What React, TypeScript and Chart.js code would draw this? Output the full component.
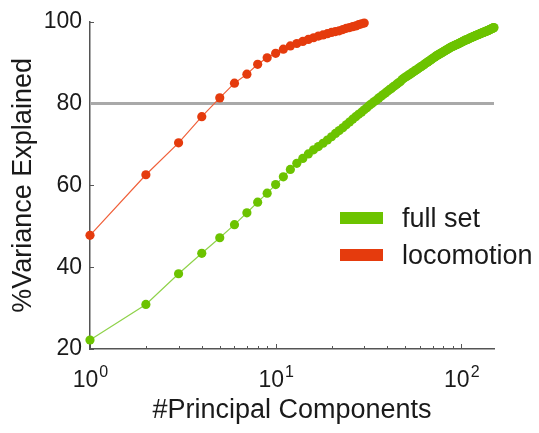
import React, { useEffect, useRef } from "react";
import { Chart, registerables } from "chart.js";

Chart.register(...registerables);

// % variance explained for the full set, components 1..150
const fullSetValues = [
  22.2, 30.9, 38.4, 43.4, 47.2, 50.4, 53.3, 55.9, 58.1, 60.2, 62.1, 63.9, 65.4,
  66.6, 67.7, 68.7, 69.5, 70.3, 71.1, 71.9,
  72.7, 73.4, 74.1, 74.8, 75.5, 76.2, 76.8, 77.4, 77.9, 78.5,
  79.0, 79.6, 80.0, 80.5, 80.9, 81.4, 81.8, 82.2, 82.6, 83.0,
  83.4, 83.7, 84.1, 84.4, 84.8, 85.1, 85.4, 85.9, 86.2, 86.5,
  86.7, 87.0, 87.2, 87.5, 87.7, 88.0, 88.2, 88.4, 88.7, 88.9,
  89.1, 89.3, 89.5, 89.8, 90.0, 90.2, 90.4, 90.6, 90.8, 91.0,
  91.2, 91.4, 91.6, 91.8, 91.9, 92.1, 92.2, 92.4, 92.5, 92.7,
  92.8, 93.0, 93.1, 93.2, 93.4, 93.5, 93.7, 93.8, 93.9, 94.0,
  94.1, 94.2, 94.3, 94.4, 94.5, 94.6, 94.7, 94.8, 94.9, 95.0,
  95.1, 95.2, 95.3, 95.4, 95.5, 95.6, 95.6, 95.7, 95.8, 95.9,
  96.0, 96.1, 96.1, 96.2, 96.3, 96.4, 96.4, 96.5, 96.6, 96.7,
  96.7, 96.8, 96.9, 96.9, 97.0, 97.1, 97.1, 97.2, 97.3, 97.3,
  97.4, 97.4, 97.5, 97.6, 97.6, 97.7, 97.7, 97.8, 97.9, 97.9,
  98.0, 98.1, 98.1, 98.2, 98.3, 98.3, 98.4, 98.5, 98.5, 98.6,
];

// % variance explained for locomotion, components 1..30
const locomotionValues = [
  47.8, 62.6, 70.4, 76.8, 81.4, 85.0, 87.2, 89.6, 91.2, 92.3,
  93.3, 94.1, 94.7, 95.2, 95.7, 96.1, 96.5, 96.8, 97.1, 97.4,
  97.6, 97.8, 98.1, 98.4, 98.6, 98.8, 99.0, 99.3, 99.5, 99.7,
];

const seriesLabels = ["full set", "locomotion"];
const thresholdValue = 80;
const xRange = [1, 150];
const yRange = [20, 100];
const yTickStep = 20;
const xTickBase = "10";
const xTickExponents = [0, 1, 2];
const xTitle = "#Principal Components";
const yTitle = "%Variance Explained";

const GREEN = "#6cc300";
const GREEN_LINE = "#8fd24a";
const RED = "#e53b0d";
const RED_LINE = "#f0603a";
const FONT = "'Liberation Sans', Arial, Helvetica, sans-serif";
const TEXT = "#1a1a1a";

export default function App() {
  const ref = useRef<HTMLCanvasElement>(null);

  useEffect(() => {
    document.body.style.margin = "0";
    const canvas = ref.current!;
    const fullPts = fullSetValues.map((y, i) => ({ x: i + 1, y }));
    const locoPts = locomotionValues.map((y, i) => ({ x: i + 1, y }));

    const decor = {
      id: "decor",
      beforeDatasetsDraw(chart: any) {
        const { ctx } = chart;
        const xs = chart.scales.x;
        const ys = chart.scales.y;
        ctx.save();
        ctx.strokeStyle = "#555";
        ctx.lineWidth = 1;
        for (const t of xs.ticks) {
          const lg = Math.log10(t.value);
          const sig = t.value / Math.pow(10, Math.floor(lg + 1e-9));
          if (Math.abs(sig - Math.round(sig)) > 1e-6) continue;
          const major = Math.abs(lg - Math.round(lg)) < 1e-9;
          const px = Math.round(xs.getPixelForValue(t.value)) + 0.5;
          ctx.beginPath();
          ctx.moveTo(px, ys.bottom);
          ctx.lineTo(px, ys.bottom - (major ? 5 : 3));
          ctx.stroke();
        }
        for (const t of ys.ticks) {
          const py = Math.round(ys.getPixelForValue(t.value)) + 0.5;
          ctx.beginPath();
          ctx.moveTo(xs.left, py);
          ctx.lineTo(xs.left + 4, py);
          ctx.stroke();
        }
        ctx.restore();
      },
      afterDraw(chart: any) {
        const { ctx } = chart;
        const xs = chart.scales.x;
        const ys = chart.scales.y;
        ctx.save();
        ctx.fillStyle = TEXT;
        ctx.textBaseline = "alphabetic";
        ctx.textAlign = "left";
        // x tick labels 10^n
        for (const e of xTickExponents) {
          const v = Math.pow(10, e);
          const px = xs.getPixelForValue(v);
          ctx.font = `23px ${FONT}`;
          const wb = ctx.measureText(xTickBase).width;
          ctx.font = `16px ${FONT}`;
          const we = ctx.measureText(String(e)).width;
          const start = px - (wb + we) / 2;
          const base = ys.bottom + 38;
          ctx.font = `23px ${FONT}`;
          ctx.fillText(xTickBase, start, base);
          ctx.font = `16px ${FONT}`;
          ctx.fillText(String(e), start + wb + 1, base - 10);
        }
        // legend
        const colors = [GREEN, RED];
        const rows = [218, 255];
        ctx.font = `27px ${FONT}`;
        seriesLabels.forEach((lab, i) => {
          ctx.fillStyle = colors[i];
          ctx.fillRect(340, rows[i] - 6, 43, 12);
          ctx.fillStyle = TEXT;
          ctx.fillText(lab, 402, rows[i] + 9);
        });
        ctx.restore();
      },
    };

    const chart = new Chart(canvas, {
      type: "line",
      data: {
        datasets: [
          {
            label: seriesLabels[1],
            data: locoPts,
            borderColor: RED_LINE,
            borderWidth: 1.2,
            pointRadius: 4.6,
            pointBackgroundColor: RED,
            pointBorderColor: RED,
            pointBorderWidth: 0,
            clip: false,
            order: 1,
          } as any,
          {
            label: seriesLabels[0],
            data: fullPts,
            borderColor: GREEN_LINE,
            borderWidth: 1.2,
            pointRadius: 4.6,
            pointBackgroundColor: GREEN,
            pointBorderColor: GREEN,
            pointBorderWidth: 0,
            clip: false,
            order: 2,
          } as any,
          {
            label: "threshold",
            data: [
              { x: xRange[0], y: thresholdValue },
              { x: xRange[1], y: thresholdValue },
            ],
            borderColor: "#a9a9a9",
            borderWidth: 3,
            pointRadius: 0,
            order: 3,
          } as any,
        ],
      },
      options: {
        responsive: false,
        animation: false,
        layout: { padding: { top: 17, right: 45, left: 0, bottom: 0 } },
        plugins: { legend: { display: false }, tooltip: { enabled: false } },
        scales: {
          x: {
            type: "logarithmic",
            min: xRange[0],
            max: xRange[1],
            grid: { display: false, drawTicks: false },
            border: { display: true, color: "#555", width: 1.5 },
            ticks: { callback: () => "", autoSkip: false },
            title: {
              display: true,
              text: xTitle,
              color: TEXT,
              font: { family: FONT, size: 27 },
              padding: { top: 0, bottom: 6 },
            },
            afterFit: (s: any) => {
              s.height = 84;
            },
          },
          y: {
            type: "linear",
            min: yRange[0],
            max: yRange[1],
            grid: { display: false, drawTicks: false },
            border: { display: true, color: "#555", width: 1.5 },
            ticks: {
              stepSize: yTickStep,
              color: TEXT,
              padding: 8,
              font: { family: FONT, size: 23 },
            },
            title: {
              display: true,
              text: yTitle,
              color: TEXT,
              font: { family: FONT, size: 27 },
              padding: { top: 7, bottom: 0 },
            },
            afterFit: (s: any) => {
              s.width = 90;
            },
          },
        },
      } as any,
      plugins: [decor],
    });
    return () => chart.destroy();
  }, []);

  return (
    <div style={{ width: 539, height: 433 }}>
      <canvas ref={ref} width={539} height={433} />
    </div>
  );
}
